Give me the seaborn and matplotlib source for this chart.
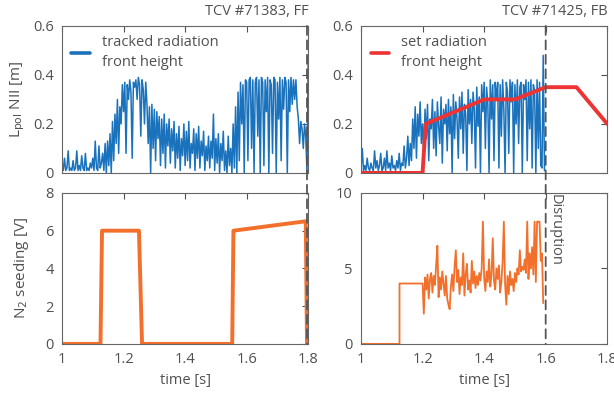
import numpy as np
import pandas as pd
import seaborn as sns
from matplotlib import pyplot as plt
from matplotlib.patches import ConnectionPatch

# ---- data ----
# tracked front height, shot 71383 (FF), sampled every 4 ms from 1.0 s to 1.8 s
ff_front = [
    0.03, 0.01, 0.06, 0.01, 0.02, 0.09, 0.01, 0.02, 0.01, 0.05,
    0.01, 0.02, 0.09, 0.01, 0.03, 0.01, 0.07, 0.02, 0.01, 0.08,
    0.01, 0.02, 0.01, 0.04, 0.02, 0.06, 0.01, 0.13, 0.02, 0.01,
    0.11, 0.02, 0.04, 0.08, 0.01, 0.12, 0.00, 0.13, 0.03, 0.16,
    0.00, 0.21, 0.05, 0.24, 0.12, 0.30, 0.08, 0.27, 0.20, 0.36,
    0.25, 0.37, 0.08, 0.36, 0.30, 0.38, 0.33, 0.06, 0.37, 0.35,
    0.38, 0.30, 0.39, 0.36, 0.15, 0.38, 0.34, 0.20, 0.37, 0.28,
    0.12, 0.27, 0.00, 0.28, 0.10, 0.26, 0.05, 0.25, 0.14, 0.23,
    0.03, 0.22, 0.08, 0.24, 0.02, 0.20, 0.11, 0.22, 0.04, 0.18,
    0.09, 0.21, 0.02, 0.16, 0.06, 0.19, 0.01, 0.14, 0.07, 0.20,
    0.03, 0.17, 0.05, 0.21, 0.02, 0.12, 0.08, 0.18, 0.01, 0.16,
    0.06, 0.19, 0.02, 0.13, 0.07, 0.17, 0.01, 0.11, 0.05, 0.15,
    0.02, 0.13, 0.06, 0.24, 0.01, 0.14, 0.04, 0.16, 0.00, 0.12,
    0.05, 0.17, 0.01, 0.09, 0.00, 0.15, 0.03, 0.10, 0.00, 0.20,
    0.02, 0.27, 0.00, 0.33, 0.05, 0.37, 0.20, 0.36, 0.00, 0.38,
    0.37, 0.05, 0.38, 0.39, 0.10, 0.38, 0.00, 0.37, 0.39, 0.15,
    0.38, 0.00, 0.39, 0.37, 0.03, 0.38, 0.25, 0.39, 0.00, 0.38,
    0.36, 0.08, 0.39, 0.38, 0.00, 0.37, 0.22, 0.39, 0.05, 0.38,
    0.26, 0.39, 0.37, 0.00, 0.38, 0.25, 0.39, 0.28, 0.38, 0.30,
    0.38, 0.27, 0.22, 0.12, 0.21, 0.18, 0.10, 0.20, 0.15, 0.00,
    0.47,
]
ff_t = np.linspace(1.0, 1.8, len(ff_front))

# tracked front height, shot 71425 (FB), every 4 ms from 1.0 s
fb_front = [
    0.02, 0.10, 0.01, 0.03, 0.01, 0.06, 0.02, 0.01, 0.04, 0.02,
    0.01, 0.09, 0.02, 0.05, 0.01, 0.03, 0.08, 0.01, 0.02, 0.06,
    0.01, 0.09, 0.02, 0.04, 0.01, 0.07, 0.02, 0.03, 0.01, 0.05,
    0.02, 0.08, 0.01, 0.04, 0.03, 0.11, 0.02, 0.06, 0.15, 0.03,
    0.12, 0.05, 0.22, 0.10, 0.27, 0.06, 0.24, 0.15, 0.29, 0.12,
    0.20, 0.08, 0.26, 0.14, 0.28, 0.05, 0.22, 0.18, 0.30, 0.10,
    0.25, 0.07, 0.29, 0.19, 0.12, 0.31, 0.04, 0.26, 0.20, 0.28,
    0.09, 0.30, 0.16, 0.27, 0.00, 0.32, 0.14, 0.29, 0.22, 0.06,
    0.31, 0.18, 0.33, 0.08, 0.28, 0.24, 0.01, 0.34, 0.20, 0.30,
    0.12, 0.33, 0.26, 0.02, 0.35, 0.19, 0.31, 0.00, 0.36, 0.25,
    0.37, 0.10, 0.35, 0.28, 0.00, 0.38, 0.22, 0.36, 0.05, 0.37,
    0.30, 0.37, 0.02, 0.36, 0.15, 0.38, 0.26, 0.00, 0.37, 0.33,
    0.08, 0.38, 0.29, 0.37, 0.00, 0.36, 0.20, 0.38, 0.12, 0.35,
    0.37, 0.00, 0.36, 0.30, 0.38, 0.05, 0.37, 0.18, 0.38, 0.02,
    0.36, 0.33, 0.00, 0.38, 0.10, 0.37, 0.03, 0.02, 0.48, 0.01,
]
fb_t = 1.0 + 0.004 * np.arange(len(fb_front))

# set (reference) front height for FB
set_t = [1.0, 1.2, 1.21, 1.4, 1.5, 1.6, 1.7, 1.8]
set_h = [0.0, 0.0, 0.2, 0.3, 0.3, 0.35, 0.35, 0.2]

# N2 seeding, FF shot
ff_seed_t = [1.0, 1.125, 1.13, 1.25, 1.26, 1.553, 1.557, 1.792, 1.796, 1.8]
ff_seed = [0, 0, 6, 6, 0, 0, 6, 6.5, 0, 0]

# N2 seeding, FB shot: pre-programmed step then feedback (every 4 ms from 1.204 s)
fb_step_t = [1.0, 1.125, 1.125, 1.2]
fb_step = [0, 0, 4, 4]
fb_fb_seed = [
    2.0, 4.4, 3.6, 4.6, 3.0, 4.3, 4.7, 3.4, 4.5, 3.9,
    5.2, 6.5, 3.1, 4.4, 3.6, 4.8, 4.0, 3.2, 4.5, 3.0,
    2.6, 2.3, 3.8, 4.6, 3.5, 5.1, 6.2, 4.1, 4.9, 3.3,
    4.4, 3.9, 6.0, 3.2, 4.6, 5.3, 3.6, 4.2, 3.4, 5.5,
    4.0, 4.8, 3.7, 4.5, 3.9, 4.7, 4.2, 5.0, 8.1, 4.4,
    3.5, 4.8, 4.1, 5.6, 3.8, 4.6, 7.0, 4.2, 3.6, 5.0,
    4.3, 5.2, 3.4, 4.1, 5.4, 8.1, 4.0, 2.6, 4.5, 3.3,
    4.8, 3.9, 4.3, 3.5, 4.7, 4.1, 5.0, 4.6, 6.2, 4.8,
    5.1, 4.9, 5.6, 4.7, 8.1, 4.3, 6.0, 5.0, 6.4, 4.6,
    8.1, 4.1, 8.1, 8.1, 8.1, 5.5, 6.0, 2.7,
]
fb_fb_t = 1.204 + 0.004 * np.arange(len(fb_fb_seed))
fb_seed_t = list(fb_step_t) + list(fb_fb_t)
fb_seed = fb_step + fb_fb_seed

x_ticks = [1, 1.2, 1.4, 1.6, 1.8]
x_labels = ['1', '1.2', '1.4', '1.6', '1.8']

blue = '#1a72bd'
red = '#ee3333'
orange = '#f2702c'
gray = '#505050'
fs = 10.5

sns.set_theme(style='white')
plt.rcParams['font.family'] = ['Open Sans', 'DejaVu Sans']
plt.rcParams['text.color'] = gray
plt.rcParams['axes.labelcolor'] = gray
plt.rcParams['xtick.color'] = gray
plt.rcParams['ytick.color'] = gray
plt.rcParams['axes.edgecolor'] = '#666666'

fig = plt.figure(figsize=(6.14, 3.93), dpi=100)
ax_tl = fig.add_axes([0.101, 0.560, 0.401, 0.374])
ax_tr = fig.add_axes([0.588, 0.560, 0.401, 0.374])
ax_bl = fig.add_axes([0.101, 0.125, 0.401, 0.384])
ax_br = fig.add_axes([0.588, 0.125, 0.401, 0.384])

sns.lineplot(x=ff_t, y=ff_front, ax=ax_tl, color=blue, lw=1.1, sort=False,
             estimator=None, label='tracked radiation\nfront height')
sns.lineplot(x=fb_t, y=fb_front, ax=ax_tr, color=blue, lw=1.1, sort=False,
             estimator=None)
sns.lineplot(x=set_t, y=set_h, ax=ax_tr, color=red, lw=2.8, sort=False,
             estimator=None, label='set radiation\nfront height')
sns.lineplot(x=ff_seed_t, y=ff_seed, ax=ax_bl, color=orange, lw=2.8,
             sort=False, estimator=None)
sns.lineplot(x=fb_seed_t, y=fb_seed, ax=ax_br, color=orange, lw=1.3,
             sort=False, estimator=None)

for ax in (ax_tl, ax_tr, ax_bl, ax_br):
    ax.set_xlim(1, 1.8)
    ax.set_xticks(x_ticks)
    ax.tick_params(direction='in', length=4, width=0.8, top=True, right=True,
                   labelsize=fs, pad=6)
    for s in ax.spines.values():
        s.set_linewidth(0.8)
    ax.set_xlabel('')
    ax.set_ylabel('')

for ax in (ax_tl, ax_tr):
    ax.set_ylim(0, 0.6)
    ax.set_yticks([0, 0.2, 0.4, 0.6])
    ax.set_yticklabels(['0', '0.2', '0.4', '0.6'])
    ax.set_xticklabels([])
    leg = ax.legend(loc='upper left', frameon=False, fontsize=fs,
                    handlelength=1.3, borderaxespad=0.25, handletextpad=0.8)
    for line in leg.get_lines():
        line.set_linewidth(2.6)
    for txt in leg.get_texts():
        txt.set_linespacing(1.45)

for ax in (ax_bl, ax_br):
    ax.set_xticklabels(x_labels)
    ax.set_xlabel('time [s]', fontsize=fs, labelpad=4)

ax_bl.set_ylim(0, 8)
ax_bl.set_yticks([0, 2, 4, 6, 8])
ax_br.set_ylim(0, 10)
ax_br.set_yticks([0, 5, 10])

ax_tl.set_ylabel('L$_{\\rm pol}$ NII [m]', fontsize=fs + 0.5, labelpad=4)
ax_bl.set_ylabel('N$_2$ seeding [V]', fontsize=fs + 0.5, labelpad=10)
ax_tl.set_title('TCV #71383, FF', loc='right', fontsize=fs, pad=8)
ax_tr.set_title('TCV #71425, FB', loc='right', fontsize=fs, pad=8)

# dashed disruption lines spanning both panels
for top, bot, xd in ((ax_tl, ax_bl, 1.796), (ax_tr, ax_br, 1.6)):
    con = ConnectionPatch(xyA=(xd, top.get_ylim()[1]), coordsA='data', axesA=top,
                          xyB=(xd, bot.get_ylim()[0]), coordsB='data', axesB=bot,
                          color='#555555', lw=1.3, linestyle=(0, (5, 3)))
    fig.add_artist(con)

ax_br.text(1.605, 9.9, 'Disruption', rotation=270, ha='left', va='top',
           fontsize=fs, color=gray)

fig.savefig('out.png', dpi=100)
